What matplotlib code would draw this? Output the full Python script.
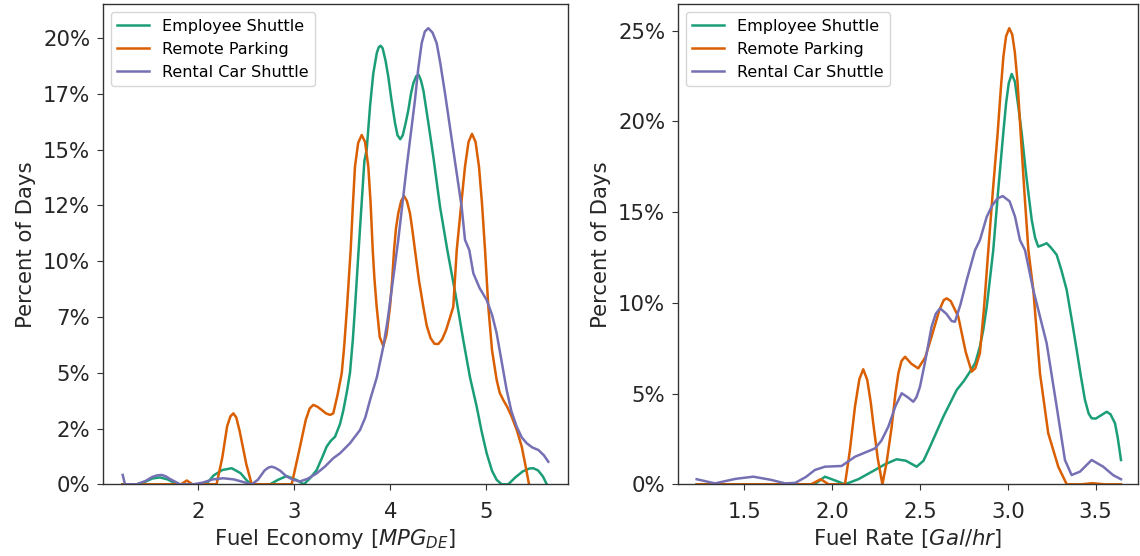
import matplotlib
matplotlib.use("Agg")
import matplotlib.pyplot as plt

# ---------------- data ----------------
series_names = ["Employee Shuttle", "Remote Parking", "Rental Car Shuttle"]
series_colors = ["#1b9e77", "#d95f02", "#7570b3"]

# Left panel: Fuel Economy [MPG_DE]
econ_green_x = [1.21, 1.36, 1.45, 1.52, 1.60, 1.68, 1.78, 2.08, 2.16, 2.25, 2.348, 2.44, 2.51,
                2.556, 2.747, 2.83, 2.92, 3.02, 3.10, 3.17, 3.233, 3.29, 3.337, 3.38, 3.424,
                3.476, 3.51, 3.55, 3.58, 3.61, 3.632, 3.667, 3.70, 3.73, 3.754, 3.79, 3.823,
                3.86, 3.88, 3.90, 3.92, 3.95, 3.979, 4.01, 4.049, 4.075, 4.104, 4.13, 4.16,
                4.188, 4.215, 4.24, 4.27, 4.296, 4.32, 4.345, 4.36, 4.40, 4.448, 4.518, 4.594,
                4.68, 4.76, 4.83, 4.9, 4.95, 5.004, 5.06, 5.108, 5.16, 5.229, 5.30, 5.38,
                5.45, 5.49, 5.54, 5.59, 5.63]
econ_green_y = [0, 0, 0.0012, 0.0026, 0.0031, 0.0022, 0, 0, 0.004, 0.0064, 0.0072, 0.005,
                0.0015, 0, 0, 0.002, 0.0037, 0.002, 0, 0.003, 0.0064, 0.012, 0.0169, 0.0195,
                0.0213, 0.027, 0.033, 0.042, 0.050, 0.065, 0.079, 0.103, 0.125, 0.145, 0.150,
                0.170, 0.1843, 0.1935, 0.196, 0.1966, 0.1955, 0.190, 0.1828, 0.173, 0.162,
                0.1565, 0.1547, 0.1565, 0.162, 0.1678, 0.175, 0.1798, 0.1830, 0.1835, 0.181,
                0.1765, 0.1723, 0.161, 0.1469, 0.1245, 0.105, 0.085, 0.0647, 0.048, 0.0348,
                0.024, 0.0139, 0.006, 0.002, 0, 0, 0.003, 0.0058, 0.0071, 0.0072, 0.0062,
                0.0035, 0]

econ_orange_x = [1.21, 1.82, 1.88, 1.94, 2.19, 2.25, 2.30, 2.335, 2.365, 2.395, 2.43, 2.50,
                 2.556, 2.973, 3.05, 3.12, 3.16, 3.198, 3.24, 3.28, 3.33, 3.372, 3.406, 3.45,
                 3.494, 3.52, 3.55, 3.587, 3.61, 3.632, 3.665, 3.702, 3.737, 3.771, 3.795,
                 3.817, 3.835, 3.858, 3.89, 3.927, 3.96, 3.997, 4.02, 4.039, 4.06, 4.083,
                 4.113, 4.143, 4.173, 4.205, 4.23, 4.257, 4.30, 4.344, 4.38, 4.42, 4.46, 4.50,
                 4.54, 4.58, 4.62, 4.656, 4.692, 4.74, 4.778, 4.815, 4.851, 4.888, 4.924,
                 4.955, 4.987, 5.021, 5.06, 5.108, 5.14, 5.177, 5.22, 5.265, 5.32, 5.369,
                 5.41, 5.445]
econ_orange_y = [0, 0, 0.0017, 0, 0, 0.012, 0.026, 0.0305, 0.0318, 0.030, 0.024, 0.009,
                 0, 0, 0.015, 0.029, 0.034, 0.0356, 0.0348, 0.0335, 0.0318, 0.0311, 0.0318,
                 0.040, 0.0498, 0.062, 0.08, 0.105, 0.125, 0.1424, 0.1530, 0.1566, 0.1535,
                 0.1424, 0.126, 0.105, 0.092, 0.0796, 0.066, 0.062, 0.067, 0.0796, 0.092,
                 0.105, 0.115, 0.1215, 0.127, 0.1293, 0.127, 0.1215, 0.114, 0.105, 0.091,
                 0.0796, 0.071, 0.0655, 0.0630, 0.0629, 0.065, 0.069, 0.0745, 0.0796, 0.105,
                 0.126, 0.1424, 0.1535, 0.1571, 0.1535, 0.1424, 0.126, 0.105, 0.0796, 0.060,
                 0.0468, 0.041, 0.0378, 0.0345, 0.0303, 0.024, 0.0169, 0.008, 0]

econ_purple_x = [1.2125, 1.236, 1.36, 1.45, 1.52, 1.57, 1.619, 1.66, 1.70, 1.81, 1.95, 2.05,
                 2.15, 2.26, 2.37, 2.47, 2.556, 2.62, 2.69, 2.73, 2.765, 2.80, 2.85, 2.92,
                 2.99, 3.06, 3.14, 3.233, 3.32, 3.406, 3.476, 3.58, 3.684, 3.74, 3.789, 3.86,
                 3.927, 3.97, 4.014, 4.083, 4.171, 4.257, 4.29, 4.327, 4.36, 4.396, 4.44,
                 4.483, 4.52, 4.57, 4.656, 4.743, 4.778, 4.823, 4.865, 4.93, 5.004, 5.06,
                 5.108, 5.16, 5.212, 5.26, 5.317, 5.37, 5.421, 5.48, 5.542, 5.60, 5.646]
econ_purple_y = [0.0042, 0, 0, 0.0015, 0.0033, 0.0040, 0.0042, 0.0036, 0.0025, 0, 0, 0.0008,
                 0.0022, 0.0027, 0.0022, 0.001, 0, 0.002, 0.0062, 0.0075, 0.0079, 0.0074,
                 0.0062, 0.0035, 0.002, 0.0013, 0.0025, 0.0049, 0.008, 0.0117, 0.0139, 0.0184,
                 0.0243, 0.030, 0.0378, 0.048, 0.0617, 0.073, 0.0871, 0.1096, 0.1424, 0.1723,
                 0.186, 0.1978, 0.2030, 0.2045, 0.2025, 0.1978, 0.189, 0.1753, 0.1499, 0.1245,
                 0.1096, 0.105, 0.0946, 0.088, 0.0826, 0.076, 0.0677, 0.055, 0.0423, 0.033,
                 0.0258, 0.021, 0.0184, 0.0165, 0.0154, 0.013, 0.0101]

# Right panel: Fuel Rate [Gal/hr]
rate_green_x = [1.229, 1.90, 1.959, 2.02, 2.073, 2.149, 2.244, 2.30, 2.367, 2.42, 2.481, 2.52,
                2.557, 2.633, 2.709, 2.75, 2.785, 2.815, 2.841, 2.860, 2.880, 2.917, 2.945,
                2.974, 2.99, 3.005, 3.022, 3.04, 3.06, 3.079, 3.105, 3.136, 3.155, 3.173,
                3.20, 3.221, 3.245, 3.278, 3.305, 3.335, 3.365, 3.392, 3.415, 3.439, 3.46,
                3.477, 3.50, 3.53, 3.563, 3.585, 3.610, 3.625, 3.644]
rate_green_y = [0, 0, 0.0042, 0.002, 0, 0.0028, 0.0079, 0.011, 0.0138, 0.013, 0.0097, 0.013,
                0.0207, 0.0373, 0.052, 0.057, 0.0621, 0.067, 0.0759, 0.085, 0.0979, 0.129,
                0.162, 0.1935, 0.210, 0.221, 0.2262, 0.222, 0.208, 0.1935, 0.17, 0.1457,
                0.136, 0.131, 0.132, 0.1329, 0.1305, 0.1265, 0.118, 0.1071, 0.090, 0.074,
                0.060, 0.0465, 0.039, 0.0364, 0.0362, 0.0380, 0.0400, 0.0385, 0.0336, 0.026,
                0.0134]

rate_orange_x = [1.229, 1.88, 1.935, 1.98, 2.073, 2.10, 2.130, 2.155, 2.177, 2.20, 2.22,
                 2.234, 2.26, 2.286, 2.31, 2.339, 2.36, 2.377, 2.395, 2.415, 2.45, 2.490,
                 2.53, 2.566, 2.61, 2.635, 2.652, 2.675, 2.70, 2.718, 2.76, 2.794, 2.815,
                 2.841, 2.865, 2.889, 2.915, 2.942, 2.96, 2.975, 2.99, 3.008, 3.025, 3.04,
                 3.055, 3.073, 3.095, 3.117, 3.145, 3.183, 3.230, 3.287, 3.335, 3.42, 3.48,
                 3.55, 3.644]
rate_orange_y = [0, 0, 0.0028, 0, 0, 0.018, 0.0428, 0.058, 0.0634, 0.0575, 0.045, 0.0336,
                 0.014, 0, 0.012, 0.0318, 0.050, 0.0612, 0.068, 0.0703, 0.0665, 0.0639, 0.070,
                 0.0814, 0.096, 0.1015, 0.1025, 0.101, 0.096, 0.0924, 0.073, 0.0621, 0.064,
                 0.0722, 0.098, 0.1292, 0.162, 0.1935, 0.218, 0.236, 0.247, 0.2514, 0.248,
                 0.238, 0.222, 0.1935, 0.16, 0.129, 0.1071, 0.0612, 0.0281, 0.0097, 0, 0,
                 0.0006, 0, 0]

rate_purple_x = [1.229, 1.333, 1.45, 1.551, 1.65, 1.732, 1.79, 1.85, 1.902, 1.959, 2.054,
                 2.130, 2.20, 2.244, 2.28, 2.320, 2.36, 2.396, 2.43, 2.462, 2.48, 2.500, 2.53,
                 2.566, 2.59, 2.614, 2.65, 2.68, 2.699, 2.73, 2.766, 2.813, 2.841, 2.880,
                 2.91, 2.94, 2.971, 3.01, 3.041, 3.069, 3.098, 3.145, 3.221, 3.278, 3.325,
                 3.363, 3.411, 3.477, 3.543, 3.60, 3.644]
rate_purple_y = [0.0028, 0.0005, 0.003, 0.0042, 0.0025, 0.0005, 0.0008, 0.004, 0.0079, 0.0097,
                 0.0101, 0.0152, 0.018, 0.0198, 0.024, 0.0318, 0.043, 0.0502, 0.048, 0.0455,
                 0.048, 0.0538, 0.068, 0.0869, 0.094, 0.097, 0.094, 0.090, 0.0896, 0.099,
                 0.1126, 0.129, 0.1346, 0.1475, 0.1535, 0.1575, 0.1589, 0.156, 0.1475, 0.1346,
                 0.129, 0.1071, 0.0777, 0.0428, 0.0134, 0.0051, 0.0070, 0.0134, 0.0097, 0.005,
                 0.0028]

econ_xticks = [2, 3, 4, 5]
econ_yticks = [0, 0.025, 0.05, 0.075, 0.10, 0.125, 0.15, 0.175, 0.20]
econ_ytick_labels = ["0%", "2%", "5%", "7%", "10%", "12%", "15%", "17%", "20%"]
rate_xticks = [1.5, 2.0, 2.5, 3.0, 3.5]
rate_xtick_labels = ["1.5", "2.0", "2.5", "3.0", "3.5"]
rate_yticks = [0, 0.05, 0.10, 0.15, 0.20, 0.25]
rate_ytick_labels = ["0%", "5%", "10%", "15%", "20%", "25%"]

# ---------------- figure ----------------
fig = plt.figure(figsize=(11.4, 5.56), dpi=100)
W, H = 1140.0, 556.0
ax1 = fig.add_axes([102.7 / W, 1 - 484.3 / H, (567.7 - 102.7) / W, 480.0 / H])
ax2 = fig.add_axes([677.7 / W, 1 - 484.3 / H, (1137.5 - 677.7) / W, 480.0 / H])

TICK_FS = 15.3
LABEL_FS = 15.3
LEG_FS = 11.5
LW = 1.8

left_data = [(econ_green_x, econ_green_y), (econ_orange_x, econ_orange_y),
             (econ_purple_x, econ_purple_y)]
right_data = [(rate_green_x, rate_green_y), (rate_orange_x, rate_orange_y),
              (rate_purple_x, rate_purple_y)]

for ax, data in ((ax1, left_data), (ax2, right_data)):
    for (xs, ys), name, col in zip(data, series_names, series_colors):
        ax.plot(xs, ys, color=col, lw=LW, label=name, solid_joinstyle="round")
    ax.legend(loc="upper left", fontsize=LEG_FS)
    ax.tick_params(labelsize=TICK_FS, length=4, color="#333333", labelcolor="#262626")
    ax.tick_params(axis="x", pad=8.5)
    ax.tick_params(axis="y", pad=5)
    for sp in ax.spines.values():
        sp.set_color("#333333")
        sp.set_linewidth(1.0)
    ax.set_ylabel("Percent of Days", fontsize=LABEL_FS, color="#262626", labelpad=5)

ax1.set_xlim(1.004, 5.848)
ax1.set_ylim(0, 0.2152)
ax1.set_xticks(econ_xticks)
ax1.set_yticks(econ_yticks)
ax1.set_yticklabels(econ_ytick_labels)
ax1.set_xlabel("Fuel Economy [$MPG_{DE}$]", fontsize=LABEL_FS, color="#262626")

ax2.set_xlim(1.121, 3.738)
ax2.set_ylim(0, 0.2646)
ax2.set_xticks(rate_xticks)
ax2.set_xticklabels(rate_xtick_labels)
ax2.set_yticks(rate_yticks)
ax2.set_yticklabels(rate_ytick_labels)
ax2.set_xlabel("Fuel Rate [$Gal/hr$]", fontsize=LABEL_FS, color="#262626")

fig.savefig("out.png", dpi=100)
